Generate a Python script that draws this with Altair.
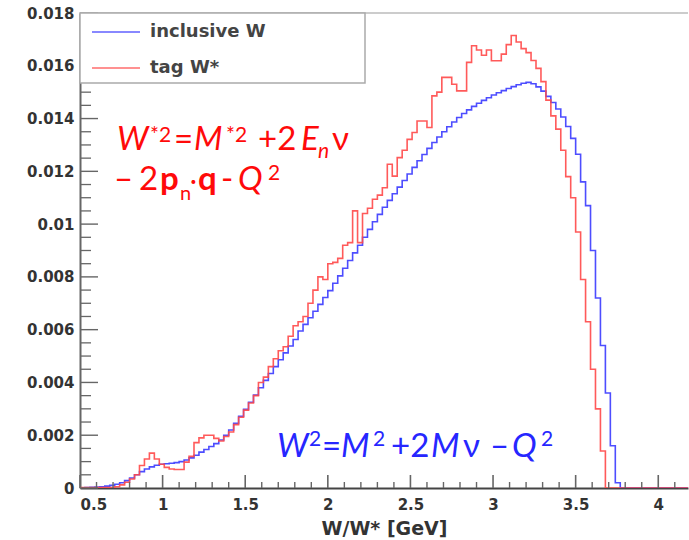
import altair as alt
import pandas as pd
import numpy as np

# ---------------- data ----------------
BIN_START = 0.5
BIN_WIDTH = 0.03
X_END = 4.18

series_names = ["inclusive W", "tag W*"]
series_colors = ["#3a3aff", "#ff4848"]

inclusive_W = [
    0.00001, 0.00002, 0.00003, 0.00004, 0.00005, 0.00007, 0.00010, 0.00014, 0.00020, 0.00028,
    0.00038, 0.00050, 0.00062, 0.00072, 0.00080, 0.00086, 0.00090, 0.00092, 0.00094, 0.00096,
    0.00100, 0.00106, 0.00114, 0.00124, 0.00136, 0.00146, 0.00157, 0.00168, 0.00182, 0.00200,
    0.00220, 0.00245, 0.00272, 0.00298, 0.00325, 0.00352, 0.00380, 0.00408, 0.00434, 0.00460,
    0.00486, 0.00512, 0.00538, 0.00563, 0.00595, 0.00620, 0.00645, 0.00670, 0.00696, 0.00722,
    0.00748, 0.00776, 0.00804, 0.00833, 0.00862, 0.00891, 0.00920, 0.00950, 0.00980, 0.01009,
    0.01037, 0.01064, 0.01090, 0.01115, 0.01140, 0.01165, 0.01190, 0.01215, 0.01240, 0.01264,
    0.01287, 0.01309, 0.01330, 0.01350, 0.01369, 0.01387, 0.01404, 0.01419, 0.01433, 0.01446,
    0.01458, 0.01469, 0.01479, 0.01489, 0.01498, 0.01506, 0.01514, 0.01521, 0.01528, 0.01534,
    0.01537, 0.01532, 0.01520, 0.01504, 0.01484, 0.01461, 0.01436, 0.01406, 0.01370, 0.01325,
    0.01265, 0.01160, 0.01070, 0.00900, 0.00720, 0.00540, 0.00360, 0.00160, 0.00020, 0.0,
]

tag_W = [
    0.00002, 0.00002, 0.00002, 0.00002, 0.00002, 0.00002, 0.00002, 0.00005, 0.00012, 0.00022,
    0.00034, 0.00050, 0.00085, 0.00110, 0.00132, 0.00110, 0.00090, 0.00078, 0.00072, 0.00070,
    0.00070, 0.00098, 0.00120, 0.00172, 0.00190, 0.00200, 0.00200, 0.00188, 0.00178, 0.00195,
    0.00212, 0.00240, 0.00268, 0.00295, 0.00322, 0.00350, 0.00400, 0.00420, 0.00460, 0.00490,
    0.00520, 0.00535, 0.00575, 0.00615, 0.00630, 0.00650, 0.00700, 0.00750, 0.00800, 0.00790,
    0.00850, 0.00855, 0.00870, 0.00920, 0.00930, 0.01050, 0.00930, 0.01040, 0.01060, 0.01094,
    0.01110, 0.01138, 0.01227, 0.01182, 0.01252, 0.01280, 0.01321, 0.01347, 0.01391, 0.01391,
    0.01366, 0.01486, 0.01500, 0.01556, 0.01556, 0.01530, 0.01505, 0.01505, 0.01613, 0.01676,
    0.01660, 0.01640, 0.01660, 0.01619, 0.01619, 0.01644, 0.01680, 0.01715, 0.01690, 0.01665,
    0.01650, 0.01620, 0.01590, 0.01540, 0.01470, 0.01410, 0.01360, 0.01280, 0.01180, 0.01100,
    0.00970, 0.00790, 0.00630, 0.00450, 0.00300, 0.00140, 0.0, 0.0, 0.0, 0.0,
]

x_tick_values = [0.5, 1.0, 1.5, 2.0, 2.5, 3.0, 3.5, 4.0]
y_tick_values = [0, 0.002, 0.004, 0.006, 0.008, 0.010, 0.012, 0.014, 0.016, 0.018]
x_title = "W/W* [GeV]"

# ---------------- layout ----------------
W, H = 608, 475
LEFT, TOP = 80, 13
AXIS_FONT = "DejaVu Sans"
EQ_FONT = "Lato"
LABEL_COLOR = "#333333"
TICK_COLOR = "#666666"
RED_TXT = "#ff0a0a"
BLUE_TXT = "#2626ff"

rows = []
for name, vals in zip(series_names, [inclusive_W, tag_W]):
    for i, v in enumerate(vals):
        rows.append({"series": name, "x": BIN_START + i * BIN_WIDTH, "y": v})
    rows.append({"series": name, "x": BIN_START + len(vals) * BIN_WIDTH, "y": 0.0})
    rows.append({"series": name, "x": X_END, "y": 0.0})
df = pd.DataFrame(rows)

xscale = alt.Scale(domain=[0.5, X_END], nice=False, zero=False)
yscale = alt.Scale(domain=[0, 0.018], nice=False, zero=True)

x_axis = alt.Axis(values=x_tick_values, format="~g", ticks=False, tickSize=0, grid=False,
                  domainColor="#444444", domainWidth=2,
                  labelFont=AXIS_FONT, labelFontWeight="bold", labelFontSize=15,
                  labelColor=LABEL_COLOR, labelPadding=9,
                  title=x_title, titleFont=AXIS_FONT, titleFontWeight="bold",
                  titleFontSize=19, titleColor=LABEL_COLOR, titlePadding=7)
y_axis = alt.Axis(values=y_tick_values, format="~g", ticks=False, tickSize=0, grid=False,
                  domainColor="#666666", domainWidth=2,
                  labelFont=AXIS_FONT, labelFontWeight="bold", labelFontSize=15,
                  labelColor=LABEL_COLOR, labelPadding=6, title=None)

X = lambda: alt.X("x:Q", scale=xscale, axis=x_axis, title=x_title)
Y = lambda: alt.Y("y:Q", scale=yscale, axis=y_axis, title=None)

color_scale = alt.Scale(domain=series_names, range=series_colors)

def series_layer(name):
    return alt.Chart(df).transform_filter(alt.datum.series == name).mark_line(
        interpolate="step-after", strokeWidth=1.6, clip=True, opacity=0.9
    ).encode(
        x=X(), y=Y(),
        color=alt.Color("series:N", scale=color_scale, legend=None),
    )

blue = series_layer(series_names[0])
red = series_layer(series_names[1])

# ticks (inward, ROOT style)
x_minor = [round(v, 2) for v in np.arange(0.6, 4.15, 0.1) if abs(v * 2 - round(v * 2)) > 1e-6]
y_minor = [round(v, 4) for v in np.arange(0.0005, 0.018, 0.0005) if abs(v / 0.002 - round(v / 0.002)) > 1e-6]

x_major_ticks = alt.Chart(pd.DataFrame({"x": x_tick_values})).mark_rule(
    color=TICK_COLOR, strokeWidth=1.6).encode(
    x=X(), y=alt.value(H), y2=alt.value(H - 13))
x_minor_ticks = alt.Chart(pd.DataFrame({"x": x_minor})).mark_rule(
    color=TICK_COLOR, strokeWidth=1.4).encode(
    x=X(), y=alt.value(H), y2=alt.value(H - 6))
y_major_ticks = alt.Chart(pd.DataFrame({"y": y_tick_values})).mark_rule(
    color=TICK_COLOR, strokeWidth=1.4).encode(
    y=Y(), x=alt.value(0), x2=alt.value(18))
y_minor_ticks = alt.Chart(pd.DataFrame({"y": y_minor})).mark_rule(
    color=TICK_COLOR, strokeWidth=1.3).encode(
    y=Y(), x=alt.value(0), x2=alt.value(11))

one = pd.DataFrame({"a": [0]})

top_frame = alt.Chart(one).mark_rule(color="#bbbbbb", strokeWidth=1.5).encode(
    x=alt.value(0), x2=alt.value(W), y=alt.value(0))

# legend
legend_box = alt.Chart(one).mark_rect(fill="white", stroke="#aaaaaa", strokeWidth=1.5).encode(
    x=alt.value(0), x2=alt.value(285), y=alt.value(0), y2=alt.value(70))
legend_layers = [legend_box]
for k, (name, col) in enumerate(zip(series_names, series_colors)):
    yy = 19 + 36 * k
    legend_layers.append(alt.Chart(one).mark_rule(color=col, strokeWidth=1.6, opacity=0.8).encode(
        x=alt.value(12), x2=alt.value(60), y=alt.value(yy)))
    legend_layers.append(alt.Chart(one).mark_text(
        text=name, align="left", baseline="middle", font=AXIS_FONT, fontWeight="bold",
        fontSize=18, color="#444444").encode(x=alt.value(70), y=alt.value(yy)))

# equations: (text, x, y, size, style, weight, color) in page pixels
segments = [
    ("W", 117, 150, 33, "italic", "normal", RED_TXT),
    ("*2", 150, 142, 21, "normal", "normal", RED_TXT),
    ("=", 174, 150, 33, "normal", "normal", RED_TXT),
    ("M", 194, 150, 33, "italic", "normal", RED_TXT),
    ("*2", 226, 142, 21, "normal", "normal", RED_TXT),
    ("+2", 258, 150, 33, "normal", "normal", RED_TXT),
    ("E", 301, 150, 33, "italic", "normal", RED_TXT),
    ("n", 318, 158, 21, "italic", "normal", RED_TXT),
    ("ν", 332, 150, 33, "normal", "normal", RED_TXT),
    ("–", 114, 190, 33, "normal", "normal", RED_TXT),
    ("2", 139, 190, 33, "normal", "normal", RED_TXT),
    ("p", 160, 190, 33, "normal", "bold", RED_TXT),
    ("n", 180, 200, 20, "normal", "normal", RED_TXT),
    ("·", 190, 190, 26, "normal", "normal", RED_TXT),
    ("q", 198, 190, 33, "normal", "bold", RED_TXT),
    ("-", 221, 190, 33, "normal", "normal", RED_TXT),
    ("Q", 238, 190, 33, "italic", "normal", RED_TXT),
    ("2", 268, 180, 21, "normal", "normal", RED_TXT),
    ("W", 277, 457, 33, "italic", "normal", BLUE_TXT),
    ("2", 309, 446, 21, "normal", "normal", BLUE_TXT),
    ("=", 322, 457, 33, "normal", "normal", BLUE_TXT),
    ("M", 341, 457, 33, "italic", "normal", BLUE_TXT),
    ("2", 373, 446, 21, "normal", "normal", BLUE_TXT),
    ("+2", 391, 457, 33, "normal", "normal", BLUE_TXT),
    ("M", 431, 457, 33, "italic", "normal", BLUE_TXT),
    ("ν", 463, 457, 33, "normal", "normal", BLUE_TXT),
    ("–", 490, 457, 33, "normal", "normal", BLUE_TXT),
    ("Q", 512, 457, 33, "italic", "normal", BLUE_TXT),
    ("2", 541, 446, 21, "normal", "normal", BLUE_TXT),
]
text_layers = []
for (t, px, py, sz, st, wt, col) in segments:
    text_layers.append(alt.Chart(one).mark_text(
        text=t, align="left", baseline="alphabetic", font=EQ_FONT, fontSize=sz,
        fontStyle=st, fontWeight=wt, color=col).encode(
        x=alt.value(px - LEFT), y=alt.value(py - TOP)))

chart = alt.layer(
    blue, red, x_minor_ticks, x_major_ticks, y_minor_ticks, y_major_ticks, top_frame,
    *legend_layers, *text_layers
).properties(
    width=W, height=H,
    autosize=alt.AutoSizeParams(type="none"),
    padding={"left": LEFT, "top": TOP, "right": 1, "bottom": 52},
    background="white",
).configure_view(stroke=None)

chart.save("out.html", embed_options={"renderer": "svg", "actions": False})
